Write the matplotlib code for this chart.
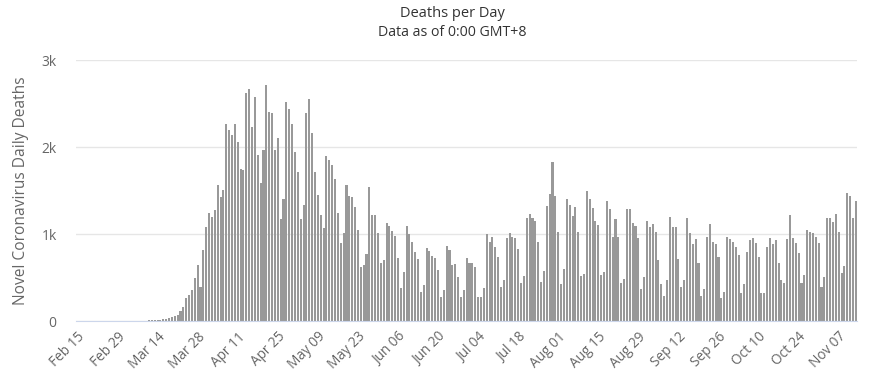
import matplotlib
matplotlib.use("Agg")
import matplotlib.pyplot as plt
import numpy as np

plt.rcParams['font.family'] = ['Open Sans', 'DejaVu Sans']

# daily deaths, one value per day from Feb 15 to Nov 13
feb = [0] * 14 + [1]
mar_early = [1, 4, 1, 4, 1, 2, 3, 4, 4, 4, 8, 8, 7, 10, 12]
mar_late = [20, 23, 30, 50, 60, 65, 120, 165, 260, 300, 355, 490,
            640, 395, 815, 1080, 1240, 1200, 1275, 1560, 1430, 1510,
            2270, 2195, 2135, 2260, 2060, 1750, 1735]
apr_may = [2616, 2673, 2233, 2578, 1907, 1589, 1972, 2719, 2405, 2386, 1972,
           2099, 1168, 1398, 2520, 2432, 2264, 1946, 1716, 1168, 1333, 2394,
           2558, 2164,
           1716, 1448, 1218, 1072, 1896, 1850, 1792, 1628, 1237, 892, 1015,
           1559, 1436, 1429, 1314, 1046, 624, 643, 770, 1543, 1218, 1218,
           1015, 663, 700]
jun_jul = [1122, 1092, 1038, 977, 728, 375, 567, 1092, 1000, 912, 797, 709,
           337, 414, 835, 808, 751, 720, 586, 272, 356, 862, 816, 643,
           655, 509, 280, 356, 720, 670, 670, 624, 272, 272, 383, 996, 904,
           969, 854, 739, 387, 471, 958, 1007, 961, 950, 823, 433, 521]
jul_aug = [1180, 1229, 1180, 1149, 912, 452, 578, 1325, 1455, 1831, 1440,
           1026, 421, 594, 1402, 1333, 1210, 1314, 1026, 521, 536, 1498,
           1402, 1295,
           1153, 1103, 529, 567, 1383, 1287, 969, 1168, 969, 440, 479, 1283,
           1283, 1122, 1095, 958, 364, 509, 1153, 1084, 1115, 1026, 701,
           421, 287]
sep_oct = [471, 1199, 1084, 1084, 712, 394, 471, 1187, 1007, 885, 938, 663,
           291, 368, 969, 1115, 912, 885, 732, 268, 337, 969, 942, 912,
           854, 758, 326, 425, 797, 931, 958, 892, 732, 326, 326, 846, 950,
           881, 931, 663, 471, 440, 938, 1218, 950, 900, 785, 440, 529]
oct_nov = [1046, 1026, 1015, 969, 900, 387, 509, 1180, 1180, 1141, 1226,
           1026, 548, 636, 1467, 1440, 1180, 1383]

deaths = feb + mar_early + mar_late + apr_may + jun_jul + jul_aug + sep_oct + oct_nov

tick_labels = ['Feb 15', 'Feb 29', 'Mar 14', 'Mar 28', 'Apr 11', 'Apr 25',
               'May 09', 'May 23', 'Jun 06', 'Jun 20', 'Jul 04', 'Jul 18',
               'Aug 01', 'Aug 15', 'Aug 29', 'Sep 12', 'Sep 26', 'Oct 10',
               'Oct 24', 'Nov 07']

x = np.arange(len(deaths))

fig = plt.figure(figsize=(8.7, 3.85), dpi=100)
ax = fig.add_axes([0.0874, 0.166, 0.898, 0.678])

ax.bar(x, deaths, width=0.72, color='#999999', linewidth=0)

ax.set_xlim(-0.5, len(deaths) - 0.5)
ax.set_ylim(0, 3000)
ax.set_yticks([0, 1000, 2000, 3000])
ax.set_yticklabels(['0', '1k', '2k', '3k'])
ax.set_xticks(x[::14])
ax.set_xticklabels(tick_labels, rotation=45, ha='right', rotation_mode='anchor')

ax.grid(axis='y', color='#e6e6e6', linewidth=1)
ax.set_axisbelow(True)
for s in ['top', 'right', 'left']:
    ax.spines[s].set_visible(False)
ax.spines['bottom'].set_color('#ccd6eb')
ax.tick_params(axis='y', length=0, labelsize=10, colors='#666666', pad=14)
ax.tick_params(axis='x', length=0, labelsize=9.8, colors='#666666', pad=6)

ax.set_ylabel('Novel Coronavirus Daily Deaths', fontsize=11.2, color='#666666', labelpad=9)

fig.text(0.52, 0.965, 'Deaths per Day', ha='center', va='center', fontsize=10.5, color='#333333')
fig.text(0.52, 0.915, 'Data as of 0:00 GMT+8', ha='center', va='center', fontsize=10.2, color='#333333')

fig.savefig('out.png', dpi=100)
